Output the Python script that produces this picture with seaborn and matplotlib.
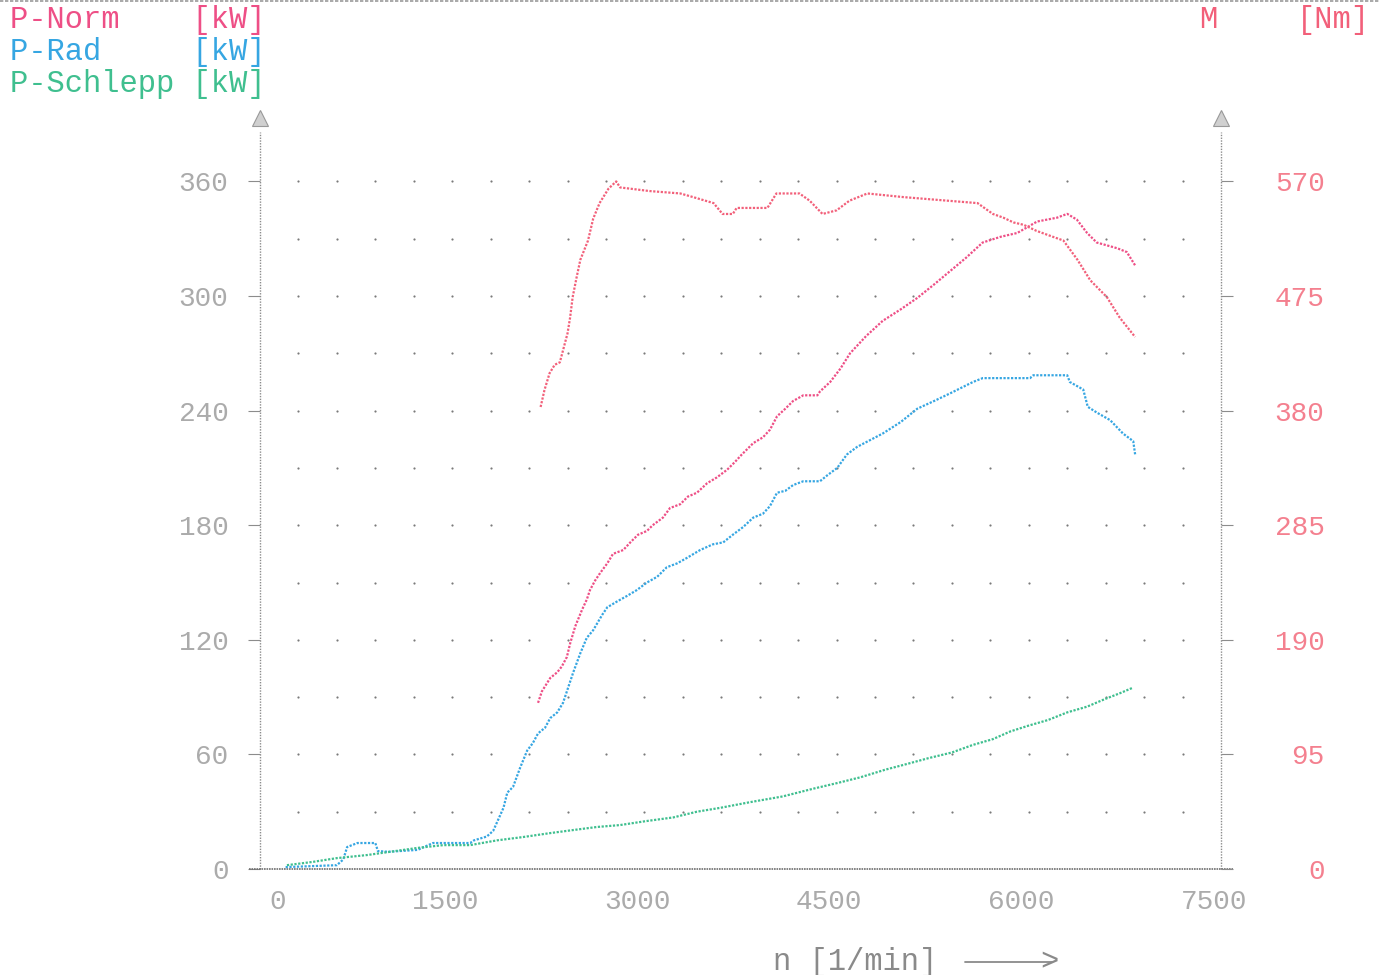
import numpy as np
import matplotlib.pyplot as plt
import seaborn as sns
from matplotlib.lines import Line2D
from matplotlib.transforms import ScaledTranslation

sns.set_style("white")
plt.rcParams["font.family"] = ["Liberation Mono", "DejaVu Sans Mono"]

# ---------------------------------------------------------------
# DATA
# ---------------------------------------------------------------
# M [Nm]
rpm_torque = [2190, 2220, 2260, 2300, 2340, 2370, 2400, 2420, 2440, 2470, 2500, 2560,
              2600, 2650, 2720, 2780, 2810, 3040, 3280, 3380, 3540, 3610, 3690, 3720,
              3960, 4030, 4210, 4290, 4390, 4500, 4600, 4740, 5020, 5250, 5600, 5720,
              5800, 5880, 5960, 6060, 6190, 6270, 6380, 6480, 6610, 6710, 6830]
torque = [383, 397, 411, 418, 420, 432, 444, 457, 474, 490, 505, 521,
          539, 552, 564, 570, 565, 562, 560, 557, 552, 543, 543, 548,
          548, 560, 560, 554, 543, 546, 554, 560, 557, 555, 552, 543,
          540, 536, 534, 529, 524, 521, 505, 488, 474, 457, 441]

# P-Norm [kW]
rpm_norm = [2170, 2200, 2265, 2320, 2355, 2395, 2420, 2460, 2515, 2550, 2575, 2615,
            2655, 2710, 2755, 2835, 2890, 2950, 3020, 3065, 3145, 3200, 3280, 3340,
            3410, 3490, 3565, 3645, 3705, 3760, 3850, 3925, 3980, 4035, 4100, 4160,
            4240, 4350, 4370, 4450, 4530, 4605, 4730, 4860, 5000, 5130, 5260, 5385,
            5510, 5640, 5780, 5910, 6065, 6220, 6300, 6375, 6455, 6530, 6690, 6765, 6830]
p_norm = [87, 93, 100, 103, 106, 111, 118, 127, 136, 141, 146, 151,
          155, 160, 165, 167, 171, 175, 177, 180, 184, 189, 191, 195,
          197, 202, 205, 209, 213, 217, 223, 226, 230, 237, 241, 245,
          248, 248, 250, 255, 262, 270, 279, 287, 293, 299, 306, 313,
          320, 328, 331, 333, 339, 341, 343, 340, 333, 328, 325, 323, 316]

# P-Rad [kW]
rpm_rad = [200, 600, 650, 680, 760, 900, 920, 1000, 1230, 1350, 1640, 1670,
           1770, 1820, 1860, 1900, 1930, 1975, 2030, 2085, 2130, 2170, 2225, 2265,
           2320, 2365, 2405, 2445, 2500, 2550, 2600, 2670, 2710, 2785, 2865, 2940,
           3020, 3100, 3175, 3255, 3335, 3435, 3535, 3615, 3690, 3770, 3850, 3925,
           3980, 4035, 4100, 4160, 4240, 4370, 4425, 4505, 4580, 4660, 4860, 5000,
           5130, 5260, 5385, 5565, 5640, 6010, 6035, 6300, 6320, 6425, 6460, 6530,
           6635, 6735, 6815, 6830]
p_rad = [1, 2, 5, 11.5, 13.6, 13.6, 9.4, 9, 10, 13.6, 13.6, 15,
         17, 20, 26, 32, 40, 43, 53, 62, 66, 71, 74, 79,
         82, 87, 95, 103, 113, 121, 125, 133, 137, 140, 143, 146,
         150, 153, 158, 160, 163, 167, 170, 171, 175, 179, 184, 186,
         190, 197, 198, 201, 203, 203, 206, 210, 217, 221, 228, 234,
         241, 245, 249, 255, 257, 257, 258.5, 258.5, 255, 251, 242, 239,
         235, 228, 224, 217]

# P-Schlepp [kW]
rpm_drag = [210, 410, 600, 835, 1015, 1225, 1430, 1640, 1850, 2050, 2265, 2445,
            2630, 2810, 3005, 3225, 3410, 3590, 3825, 4080, 4315, 4505, 4685, 4880,
            5050, 5215, 5400, 5565, 5720, 5855, 5995, 6150, 6300, 6455, 6595, 6710, 6815]
p_drag = [2, 3.7, 5.7, 7.3, 9, 11, 12.5, 12.5, 15, 16.7, 18.8, 20.4,
          22, 23, 25, 27, 30, 32, 35, 38, 42, 45, 48, 52,
          55, 58, 61, 65, 68, 72, 75, 78, 82, 85, 89, 92, 95]

kw_ticks = [0, 60, 120, 180, 240, 300, 360]
nm_ticks = [0, 95, 190, 285, 380, 475, 570]
rpm_ticks = [0, 1500, 3000, 4500, 6000, 7500]

C_NORM = "#ee4f86"
C_TORQ = "#f2607a"
C_RAD = "#36a6e2"
C_DRAG = "#3fbf8f"
C_GREY = "#8c8c8c"

# ---------------------------------------------------------------
# FIGURE
# ---------------------------------------------------------------
W, H = 1379, 975
fig = plt.figure(figsize=(W / 100, H / 100), dpi=100)
ax = fig.add_axes([260 / W, 106 / H, 961 / W, 764 / H])
ax.set_xlim(0, 7500)
ax.set_ylim(0, 400)
ax2 = ax.twinx()
ax2.set_ylim(0, 400 * 570 / 360)

for a in (ax, ax2):
    for s in a.spines.values():
        s.set_visible(False)

# dotted grid
gx, gy = np.meshgrid(np.arange(300, 7500, 300), np.arange(30, 361, 30))
ax.scatter(gx.ravel(), gy.ravel(), s=2.5, color="#7a7a7a", linewidths=0, zorder=1)

dot = (0, (1, 0.7))
sns.lineplot(x=rpm_norm, y=p_norm, ax=ax, color=C_NORM, linewidth=1.6,
             linestyle=dot, zorder=3)
sns.lineplot(x=rpm_rad, y=p_rad, ax=ax, color=C_RAD, linewidth=1.6,
             linestyle=dot, zorder=3)
sns.lineplot(x=rpm_drag, y=p_drag, ax=ax, color=C_DRAG, linewidth=1.6,
             linestyle=dot, zorder=3)
sns.lineplot(x=rpm_torque, y=torque, ax=ax2, color=C_TORQ, linewidth=1.6,
             linestyle=dot, zorder=3)

# axis lines with arrows
for xpos in (0, 7500):
    ax.plot([xpos, xpos], [0, 386], color=C_GREY, lw=1, linestyle=(0, (1, 1)), clip_on=False)
    ax.plot([xpos], [393], marker="^", ms=11, mfc="#d0d0d0", mec="#999999", mew=0.8, clip_on=False)
ax.plot([-85, 7590], [0, 0], color="#6e6e6e", lw=1.2, linestyle=(0, (1, 0.5)), clip_on=False)

# ticks
ax.set_xticks(rpm_ticks)
ax.set_xticklabels([str(v) for v in rpm_ticks])
ax.set_yticks(kw_ticks)
ax.set_yticklabels([str(v) for v in kw_ticks])
ax2.set_yticks(nm_ticks)
ax2.set_yticklabels([str(v) for v in nm_ticks])
ax.set_xlabel("")
ax.set_ylabel("")
ax2.set_ylabel("")

ax.tick_params(axis="x", direction="out", length=6.5, width=0.8, color=C_GREY,
               pad=8, labelsize=20, labelcolor="#ababab")
ax.tick_params(axis="y", direction="out", length=8.6, width=0.8, color=C_GREY,
               pad=14, labelsize=20, labelcolor="#ababab")
ax2.tick_params(axis="y", direction="out", length=8.6, width=0.8, color=C_GREY,
                pad=66, labelsize=20, labelcolor="#f4808f")
for lab in ax2.get_yticklabels():
    lab.set_ha("right")
shift = ScaledTranslation(26 / 100, 0, fig.dpi_scale_trans)
for lab in ax.get_xticklabels():
    lab.set_ha("right")
    lab.set_transform(lab.get_transform() + shift)

# header texts
fs = 22
fig.text(10 / W, 1 - 20 / H, "P-Norm    [kW]", color=C_NORM, fontsize=fs, va="center")
fig.text(10 / W, 1 - 52 / H, "P-Rad     [kW]", color=C_RAD, fontsize=fs, va="center")
fig.text(10 / W, 1 - 84 / H, "P-Schlepp [kW]", color=C_DRAG, fontsize=fs, va="center")
fig.text(1199 / W, 1 - 20 / H, "M", color=C_TORQ, fontsize=fs, va="center")
fig.text(1297 / W, 1 - 20 / H, "[Nm]", color=C_TORQ, fontsize=fs, va="center")

# x label with arrow
yb = 1 - 962 / H
fig.text(773 / W, yb, "n [1/min]", color="#8a8a8a", fontsize=fs, va="center")
fig.add_artist(Line2D([965 / W, 1052 / W], [yb, yb], color="#8a8a8a", lw=1.3))
fig.text(1040 / W, yb, ">", color="#8a8a8a", fontsize=fs, va="center")

# faint top border from the scan
fig.add_artist(Line2D([0, 1], [0.999, 0.999], color="#9a9a9a", lw=1.2, linestyle=(0, (2, 1))))

fig.savefig("out.png", dpi=100)
